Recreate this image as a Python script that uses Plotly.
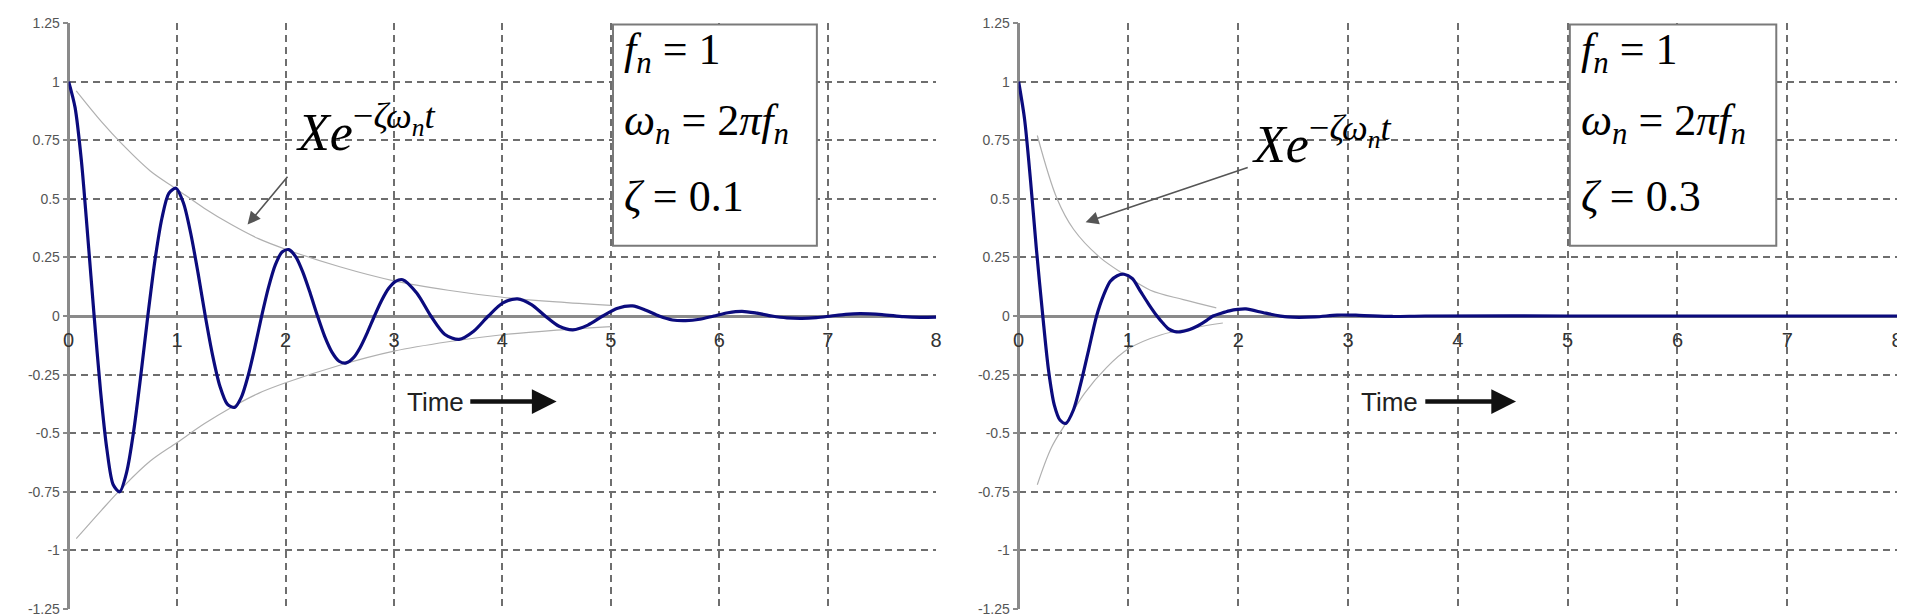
import plotly.graph_objects as go

# damped response, zeta = 0.1
T_LEFT = [0.000, 0.059, 0.118, 0.176, 0.235, 0.294, 0.353, 0.411, 0.470,
          0.535, 0.600, 0.665, 0.730, 0.795, 0.860, 0.925, 0.990,
          1.058, 1.125, 1.193, 1.260, 1.328, 1.395, 1.463, 1.530,
          1.593, 1.655, 1.718, 1.780, 1.843, 1.905, 1.968, 2.030,
          2.096, 2.163, 2.229, 2.295, 2.361, 2.428, 2.494, 2.560,
          2.625, 2.690, 2.755, 2.820, 2.885, 2.950, 3.015, 3.080,
          3.210, 3.340, 3.470, 3.600, 3.735, 3.870, 4.005, 4.140,
          4.268, 4.395, 4.523, 4.650, 4.788, 4.925, 5.063, 5.200,
          5.323, 5.445, 5.568, 5.690, 5.820, 5.950, 6.080, 6.210,
          6.348, 6.485, 6.623, 6.760, 6.895, 7.030, 7.165, 7.300,
          7.500, 7.700, 7.850, 8.000]
Y_LEFT = [1.000, 0.890, 0.660, 0.340, 0.000, -0.320, -0.570, -0.720, -0.750,
          -0.666, -0.490, -0.255, 0.000, 0.235, 0.417, 0.524, 0.545,
          0.483, 0.354, 0.184, 0.000, -0.169, -0.300, -0.376, -0.390,
          -0.346, -0.255, -0.132, 0.000, 0.122, 0.217, 0.273, 0.283,
          0.251, 0.183, 0.095, 0.000, -0.087, -0.154, -0.193, -0.200,
          -0.179, -0.133, -0.070, 0.000, 0.065, 0.117, 0.148, 0.155,
          0.098, 0.000, -0.079, -0.100, -0.065, 0.000, 0.056, 0.073,
          0.049, 0.000, -0.044, -0.059, -0.039, 0.000, 0.033, 0.043,
          0.025, 0.000, -0.017, -0.020, -0.014, 0.000, 0.014, 0.020,
          0.012, 0.000, -0.008, -0.010, -0.007, 0.000, 0.007, 0.010,
          0.006, -0.003, -0.006, -0.005]

ENV_T_LEFT = [0.07, 0.30, 0.50, 0.75, 1.00, 1.25, 1.50, 1.75, 2.00, 2.50, 3.00, 3.50, 4.00, 4.50, 5.00]
ENV_UP_LEFT = [0.96, 0.83, 0.73, 0.62, 0.54, 0.46, 0.39, 0.33, 0.285, 0.21, 0.15, 0.11, 0.08, 0.06, 0.045]
ENV_LO_LEFT = [-0.95, -0.83, -0.73, -0.62, -0.54, -0.46, -0.39, -0.33, -0.285, -0.21, -0.15, -0.11, -0.08, -0.06, -0.045]

# damped response, zeta = 0.3
T_RIGHT = [0.000, 0.054, 0.108, 0.161, 0.220, 0.272, 0.325, 0.378, 0.430,
           0.500, 0.570, 0.640, 0.710, 0.773, 0.835, 0.898, 0.960,
           1.035, 1.110, 1.185, 1.260, 1.313, 1.365, 1.418, 1.470,
           1.545, 1.620, 1.695, 1.770, 1.845, 1.920, 1.995, 2.070,
           2.250, 2.450, 2.700, 2.900, 3.100, 3.400, 3.700, 5.000, 8.000]
Y_RIGHT = [1.000, 0.840, 0.580, 0.290, 0.000, -0.230, -0.380, -0.445, -0.458,
           -0.400, -0.280, -0.140, 0.000, 0.088, 0.148, 0.172, 0.178,
           0.160, 0.105, 0.050, 0.000, -0.030, -0.055, -0.066, -0.068,
           -0.060, -0.045, -0.024, 0.000, 0.012, 0.022, 0.028, 0.030,
           0.012, -0.004, -0.004, 0.004, 0.003, -0.002, 0.000, 0.000, 0.000]

ENV_T_UP_RIGHT = [0.17, 0.35, 0.50, 0.74, 0.96, 1.20, 1.50, 1.80]
ENV_UP_RIGHT = [0.77, 0.50, 0.37, 0.25, 0.178, 0.11, 0.07, 0.035]
ENV_T_LO_RIGHT = [0.17, 0.30, 0.43, 0.60, 0.80, 1.00, 1.30, 1.60, 1.86]
ENV_LO_RIGHT = [-0.72, -0.56, -0.458, -0.33, -0.22, -0.14, -0.08, -0.05, -0.03]

ZETA_LABELS = ["0.1", "0.3"]

X_TICKS = [0, 1, 2, 3, 4, 5, 6, 7, 8]
Y_TICKS = [1.25, 1, 0.75, 0.5, 0.25, 0, -0.25, -0.5, -0.75, -1, -1.25]
Y_TICK_LABELS = ["1.25", "1", "0.75", "0.5", "0.25", "0", "-0.25", "-0.5", "-0.75", "-1", "-1.25"]

CURVE_COLOR = "#0b0b7d"
ENV_COLOR = "#b0b0b0"
GRID_COLOR = "#6e6e6e"
AXIS_COLOR = "#8a8a8a"
SERIF = "Liberation Serif"
SANS = "Liberation Sans"

fig = go.Figure()

panels = [
    dict(t=T_LEFT, y=Y_LEFT, env=[(ENV_T_LEFT, ENV_UP_LEFT), (ENV_T_LEFT, ENV_LO_LEFT)],
         xa="x", ya="y", xe=(2.08, 0.80), arrow=((2.03, 0.60), (1.65, 0.39)),
         time=(3.38, 3.69, 4.50)),
    dict(t=T_RIGHT, y=Y_RIGHT, env=[(ENV_T_UP_RIGHT, ENV_UP_RIGHT), (ENV_T_LO_RIGHT, ENV_LO_RIGHT)],
         xa="x2", ya="y2", xe=(2.11, 0.75), arrow=((2.10, 0.636), (0.61, 0.40)),
         time=(3.38, 3.69, 4.53)),
]

annotations = []
shapes = []
for i, p in enumerate(panels):
    for et, ey in p["env"]:
        fig.add_trace(go.Scatter(x=et, y=ey, mode="lines", xaxis=p["xa"], yaxis=p["ya"],
                                 line=dict(color=ENV_COLOR, width=1.2, shape="spline"),
                                 showlegend=False, hoverinfo="skip"))
    fig.add_trace(go.Scatter(x=p["t"], y=p["y"], mode="lines", xaxis=p["xa"], yaxis=p["ya"],
                             line=dict(color=CURVE_COLOR, width=3.2, shape="spline", smoothing=0.8),
                             showlegend=False))

    # parameter box
    shapes.append(dict(type="rect", xref=p["xa"], yref=p["ya"], x0=5.02, x1=6.9, y0=0.30, y1=1.244,
                       fillcolor="white", line=dict(color="#7a7a7a", width=2), layer="above"))
    box_lines = [
        "<i>f</i><sub><i>n</i></sub> = 1",
        "<i>ω</i><sub><i>n</i></sub> = 2<i>πf</i><sub><i>n</i></sub>",
        "<i>ζ</i> = " + ZETA_LABELS[i],
    ]
    for line, yy in zip(box_lines, [1.125, 0.82, 0.51]):
        annotations.append(dict(text=line, x=5.1, y=yy, xref=p["xa"], yref=p["ya"], xanchor="left",
                                yanchor="middle", showarrow=False,
                                font=dict(family=SERIF, size=44, color="black")))

    # envelope label + arrow
    annotations.append(dict(text="<i>Xe</i><sup>−<i>ζω</i><sub><i>n</i></sub><i>t</i></sup>",
                            x=p["xe"][0], y=p["xe"][1], xref=p["xa"], yref=p["ya"],
                            xanchor="left", yanchor="middle", showarrow=False,
                            font=dict(family=SERIF, size=52, color="black")))
    (tx, ty), (hx, hy) = p["arrow"]
    annotations.append(dict(text="", x=hx, y=hy, ax=tx, ay=ty, xref=p["xa"], yref=p["ya"],
                            axref=p["xa"], ayref=p["ya"], showarrow=True, arrowhead=2,
                            arrowsize=1.6, arrowwidth=1.6, arrowcolor="#555555"))

    # Time arrow
    tc, t0, t1 = p["time"]
    annotations.append(dict(text="Time", x=tc, y=-0.365, xref=p["xa"], yref=p["ya"],
                            showarrow=False, font=dict(family=SANS, size=26, color="#222222")))
    annotations.append(dict(text="", x=t1, y=-0.365, ax=t0, ay=-0.365,
                            xref=p["xa"], yref=p["ya"], axref=p["xa"], ayref=p["ya"],
                            showarrow=True, arrowhead=2, arrowsize=1.1, arrowwidth=4.5,
                            arrowcolor="#111111"))

x_common = dict(range=[0, 8], tickvals=X_TICKS, ticktext=[str(v) for v in X_TICKS],
                showgrid=True, gridcolor=GRID_COLOR, gridwidth=2, griddash="7px,5px",
                zeroline=True, zerolinecolor=AXIS_COLOR, zerolinewidth=2.5,
                showline=False, ticks="", anchor="free", position=0.5, ticklabelstandoff=10,
                tickfont=dict(family=SANS, size=20, color="#333333"), fixedrange=True)
y_common = dict(range=[-1.25, 1.25], tickvals=Y_TICKS, ticktext=Y_TICK_LABELS,
                showgrid=True, gridcolor=GRID_COLOR, gridwidth=2, griddash="7px,5px",
                zeroline=True, zerolinecolor=AXIS_COLOR, zerolinewidth=2.5,
                showline=False, ticks="outside", ticklen=5, tickcolor=AXIS_COLOR, tickwidth=1.5,
                tickfont=dict(family=SANS, size=14, color="#555555"), fixedrange=True)

fig.update_layout(
    width=1905, height=614,
    paper_bgcolor="white", plot_bgcolor="white",
    margin=dict(l=0, r=0, t=15, b=13),
    xaxis=dict(domain=[55 / 1905, 928 / 1905], **x_common),
    yaxis=dict(domain=[0, 1], anchor="x", **y_common),
    xaxis2=dict(domain=[1011 / 1905, 1895 / 1905], **x_common),
    yaxis2=dict(domain=[0, 1], anchor="x2", **y_common),
    annotations=annotations,
    shapes=shapes,
    showlegend=False,
)

fig.write_html("out.html")
